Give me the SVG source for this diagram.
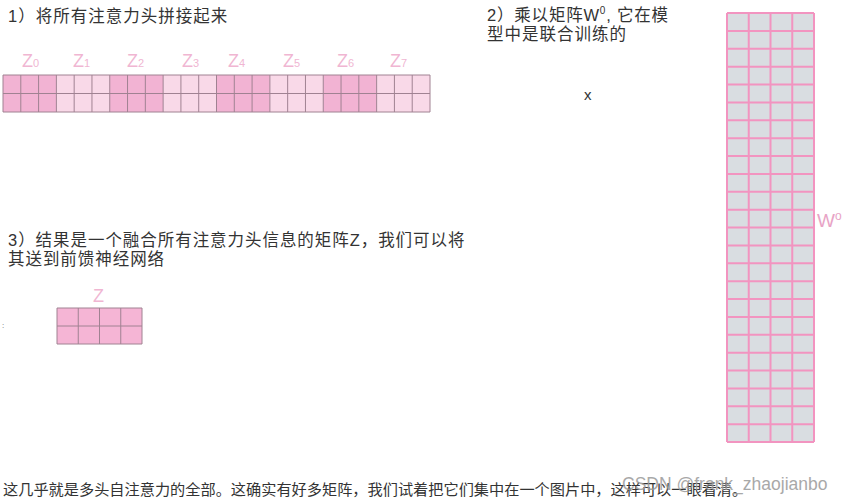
<svg xmlns="http://www.w3.org/2000/svg" width="850" height="498" viewBox="0 0 850 498">
<style>
.t{font-family:"Liberation Sans","Noto Sans CJK SC",sans-serif;fill:#333;font-size:16.5px}
.zl{font-family:"Liberation Sans","Noto Sans CJK SC",sans-serif;fill:#f0b6d2;font-size:18px}
.sub{font-size:11px}
.dk{fill:#f2b3d3}
.lt{fill:#f9d9e8}
.gl{fill:none;stroke:#a08292;stroke-width:1}
.wl{fill:none;stroke:#f294c0;stroke-width:2}
.wm{font-family:"Liberation Sans","Noto Sans",sans-serif;fill:#9a9a9a;font-size:17.5px;opacity:0.85}
</style>
<rect width="850" height="498" fill="#ffffff"/>

<g id="step1">
<text class="t" x="8" y="22" letter-spacing="1">1）将所有注意力头拼接起来</text>
<g id="z-labels">
<text class="zl" x="22" y="67">Z<tspan class="sub">0</tspan></text>
<text class="zl" x="73" y="67">Z<tspan class="sub">1</tspan></text>
<text class="zl" x="127" y="67">Z<tspan class="sub">2</tspan></text>
<text class="zl" x="182" y="67">Z<tspan class="sub">3</tspan></text>
<text class="zl" x="228" y="67">Z<tspan class="sub">4</tspan></text>
<text class="zl" x="283" y="67">Z<tspan class="sub">5</tspan></text>
<text class="zl" x="337" y="67">Z<tspan class="sub">6</tspan></text>
<text class="zl" x="390" y="67">Z<tspan class="sub">7</tspan></text>
</g>
<g id="concat-matrix">
<rect class="dk" x="3" y="75" width="53.38" height="37"/>
<rect class="lt" x="56.38" y="75" width="53.38" height="37"/>
<rect class="dk" x="109.75" y="75" width="53.38" height="37"/>
<rect class="lt" x="163.13" y="75" width="53.38" height="37"/>
<rect class="dk" x="216.5" y="75" width="53.38" height="37"/>
<rect class="lt" x="269.88" y="75" width="53.38" height="37"/>
<rect class="dk" x="323.25" y="75" width="53.38" height="37"/>
<rect class="lt" x="376.63" y="75" width="53.38" height="37"/>
<path class="gl" d="M3 75H430M3 93.5H430M3 112H430M3 75V112M20.79 75V112M38.58 75V112M56.38 75V112M74.17 75V112M91.96 75V112M109.75 75V112M127.54 75V112M145.33 75V112M163.13 75V112M180.92 75V112M198.71 75V112M216.5 75V112M234.29 75V112M252.08 75V112M269.88 75V112M287.67 75V112M305.46 75V112M323.25 75V112M341.04 75V112M358.83 75V112M376.63 75V112M394.42 75V112M412.21 75V112M430 75V112"/>
</g>
</g>

<g id="step2">
<text class="t" x="487" y="21" letter-spacing="0.8">2）乘以矩阵W<tspan font-size="10" dy="-7">0</tspan><tspan dy="7">, 它在模</tspan></text>
<text class="t" x="487" y="40" letter-spacing="1">型中是联合训练的</text>
<text class="t" x="584" y="100" style="font-size:15px">x</text>
</g>

<g id="wo-matrix">
<rect x="727" y="13" width="87" height="429" fill="#d9dde1"/>
<path class="wl" d="M727 13V442M748.75 13V442M770.5 13V442M792.25 13V442M814 13V442M727 13H814M727 30.88H814M727 48.75H814M727 66.63H814M727 84.5H814M727 102.38H814M727 120.25H814M727 138.13H814M727 156H814M727 173.88H814M727 191.75H814M727 209.63H814M727 227.5H814M727 245.38H814M727 263.25H814M727 281.13H814M727 299H814M727 316.88H814M727 334.75H814M727 352.63H814M727 370.5H814M727 388.38H814M727 406.25H814M727 424.13H814M727 442H814"/>
<text class="zl" x="817" y="227" style="font-size:19px;fill:#e8a4c6">W<tspan font-size="12" dy="-7">o</tspan></text>
</g>

<g id="step3">
<text class="t" x="8" y="246" letter-spacing="0.95">3）结果是一个融合所有注意力头信息的矩阵Z，我们可以将</text>
<text class="t" x="8" y="265" letter-spacing="0.95">其送到前馈神经网络</text>
<text x="2" y="328" font-family="Liberation Sans,sans-serif" font-size="8" fill="#666">:</text>
</g>

<g id="z-matrix">
<text class="zl" x="93" y="302">Z</text>
<rect x="57" y="308" width="85" height="36" fill="#f5b5d5"/>
<path class="gl" d="M57 308H142M57 326H142M57 344H142M57 308V344M78.25 308V344M99.5 308V344M120.75 308V344M142 308V344"/>
</g>

<g id="connectors"></g>

<g id="footer">
<text class="t" x="3" y="495" style="font-size:15.2px">这几乎就是多头自注意力的全部。这确实有好多矩阵，我们试着把它们集中在一个图片中，这样可以一眼看清。</text>
<text class="wm" x="622" y="490">CSDN @frank_zhaojianbo</text>
</g>
</svg>
